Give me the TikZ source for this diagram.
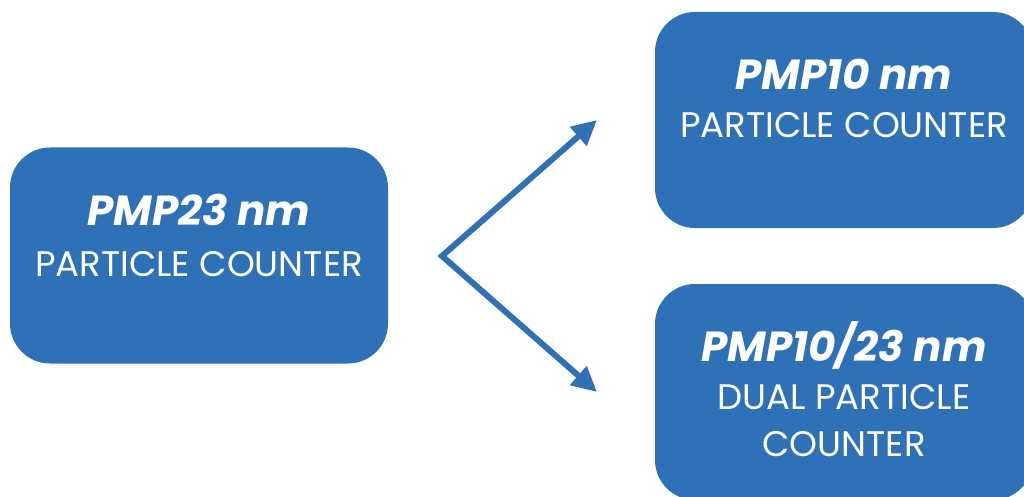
\documentclass[tikz,border=0pt]{standalone}
\usepackage{fontspec}
\setmainfont{Poppins}
\usetikzlibrary{arrows.meta}
\definecolor{pmpblue}{HTML}{2E71B7}

\begin{document}
\begin{tikzpicture}[x=1pt,y=1pt,
    box/.style={fill=pmpblue,rounded corners=40pt,minimum width=378pt,minimum height=216pt,inner sep=0pt},
    title/.style={anchor=base,inner sep=0pt,text=white,font=\fontsize{42}{48}\selectfont\bfseries\itshape},
    sub/.style={anchor=base,inner sep=0pt,text=white,font=\fontsize{35.5}{47}\selectfont}]

  \useasboundingbox (0,0) rectangle (1024,496);

  % counters
  \node[box] (a) at (199,240.5) {};
  \node[box] (b) at (844,376) {};
  \node[box] (c) at (844,104) {};

  \node[title] (a1) at ([yshift=-78pt]a.north) {PMP23 nm};
  \node[sub]   (a2) at ([yshift=-51pt]a1.base) {PARTICLE COUNTER};

  \node[title] (b1) at ([yshift=-78pt]b.north) {PMP10 nm};
  \node[sub]   (b2) at ([yshift=-48pt]b1.base) {PARTICLE COUNTER};

  \node[title] (c1) at ([yshift=-78pt]c.north) {PMP10/23 nm};
  \node[sub]   (c2) at ([yshift=-48pt]c1.base) {DUAL PARTICLE};
  \node[sub]   (c3) at ([yshift=-47pt]c2.base) {COUNTER};

  % upgrade arrows
  \coordinate (v)  at (442,240);
  \coordinate (bt) at (597,376);
  \coordinate (ct) at (597,104);
  \draw[pmpblue,line width=6pt,miter limit=20,
        {Triangle[length=25pt,width=24pt]}-{Triangle[length=25pt,width=24pt]}]
        (bt) -- (v) -- (ct);

\end{tikzpicture}
\end{document}
